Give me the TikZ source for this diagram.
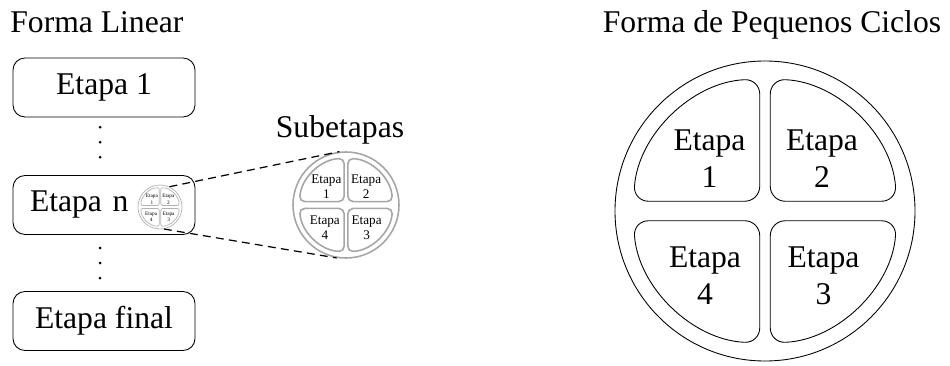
\documentclass[tikz,border=0pt]{standalone}
\usepackage{fontspec}
\setmainfont{Liberation Serif}
\usepackage{tikz}
\usetikzlibrary{calc,positioning}

\tikzset{
  etapa/.style={draw, line width=0.5pt, rounded corners=0.24cm, minimum width=3.64cm,
    minimum height=1.18cm, font=\fontsize{18}{21}\selectfont},
  titulo/.style={font=\fontsize{18}{21}\selectfont, inner sep=0pt},
  tracejado/.style={line width=0.7pt, dash pattern=on 4.5pt off 3pt},
  % circle split into four stages: #1 radius (cm), #2 font, #3 line style
  pics/ciclo/.style n args={3}{code={
    \pgfmathsetmacro\ri{0.88*#1}
    \pgfmathsetmacro\gx{0.035*#1}
    \pgfmathsetmacro\gy{0.065*#1}
    \pgfmathsetmacro\yt{sqrt(\ri*\ri-\gx*\gx)}
    \pgfmathsetmacro\aa{acos(\gx/\ri)}
    \pgfmathsetmacro\ab{asin(\gy/\ri)}
    \pgfmathsetmacro\rr{0.1*#1}
    \pgfmathsetmacro\dd{2*#1}
    \node[circle, draw, minimum size=\dd cm, inner sep=0pt, #3] (-rim) {};
    \foreach \sx/\sy/\qn/\tx/\ty in {-1/1/1/0.37/0.35, 1/1/2/0.38/0.35, 1/-1/3/0.39/0.43, -1/-1/4/0.40/0.43} {
      \begin{scope}[xscale=\sx, yscale=\sy]
        \draw[#3, rounded corners=\rr cm] (\gx,\gy) -- (\gx,\yt)
          arc[start angle=\aa, end angle=\ab, radius=\ri] -- cycle;
        \node[font=#2, align=center, inner sep=0pt] (-q\qn) at (\tx*#1,\ty*#1) {Etapa\\\qn};
      \end{scope}
    }
  }}
}

\begin{document}
\begin{tikzpicture}
\useasboundingbox (0,0) rectangle (19,7.3);

% Titles
\node[titulo, anchor=base west] (tlin) at (0.2,6.64) {Forma Linear};
\node[titulo, anchor=base] (tcic) at (15.44,6.64) {Forma de Pequenos Ciclos};

% Linear form: stages one under the other
\node[etapa] (e1) at (2.08,5.55) {Etapa 1};
\node[etapa, text width=2.96cm, inner xsep=0.34cm, align=left] (en) at (2.08,3.2) {Etapa n};
\node[etapa] (ef) at (2.08,0.88) {Etapa final};

\foreach \d in {-0.3,0,0.3} {
  \fill ($(e1.south)!0.5!(en.north)+(-0.08,0.08+\d)$) circle (0.03);
  \fill ($(en.south)!0.5!(ef.north)+(-0.08,\d)$) circle (0.03);
}

% Small cycle inside stage n and its enlargement
\pic (sm) at (3.2,3.16) {ciclo={0.44}{\fontsize{3}{3.5}\selectfont}{gray!60, line width=0.4pt}};
\pic (sub) at (6.92,3.2) {ciclo={1.06}{\fontsize{7.5}{8.5}\selectfont}{gray!70, line width=0.9pt}};
\node[titulo, anchor=base] (tsub) at (6.8,4.56) {Subetapas};

\draw[tracejado] (sm-rim.65) -- (sub-rim.97);
\draw[tracejado] (sm-rim.-80) -- (sub-rim.-100);

% Small cycles form
\pic (big) at (15.3,3.08) {ciclo={3.0}{\fontsize{18}{21}\selectfont}{black, line width=0.5pt}};
\end{tikzpicture}
\end{document}
